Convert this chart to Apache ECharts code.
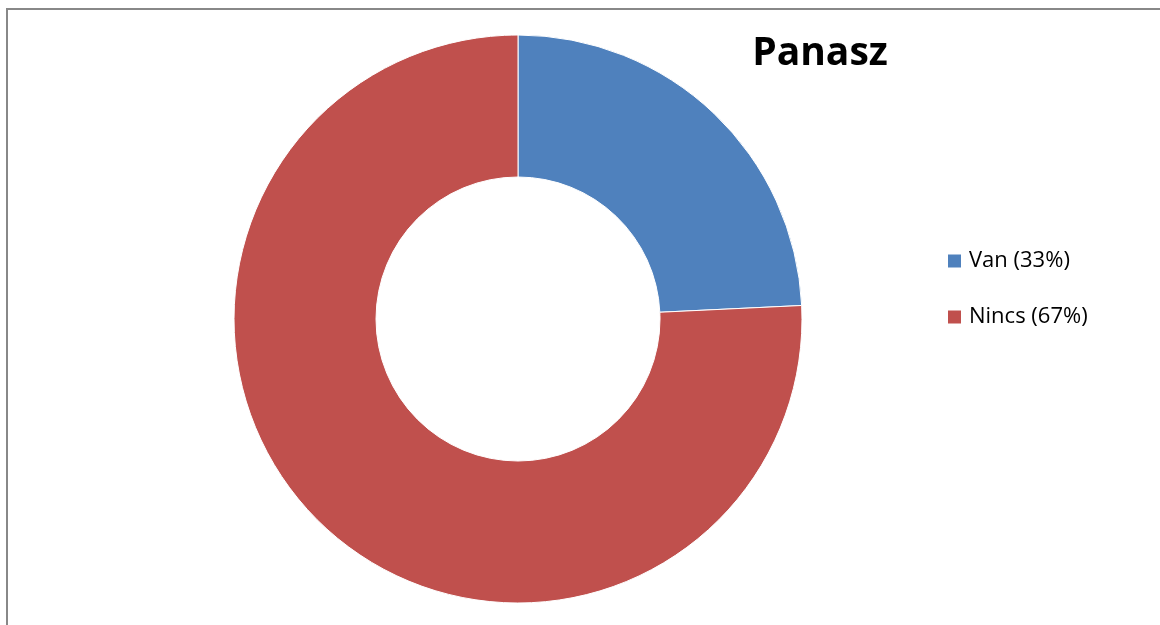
<!DOCTYPE html>
<html>
<head>
<meta charset="utf-8">
<script src="https://cdn.jsdelivr.net/npm/echarts@6/dist/echarts.min.js"></script>
<style>
  html, body { margin: 0; padding: 0; background: #fff; }
  #chart { width: 1160px; height: 625px; }
</style>
</head>
<body>
<div id="chart"></div>
<script>
// slices (legend text keeps its own percentages)
const categories = ['Van (33%)', 'Nincs (67%)']
const values = [8, 25]
const colors = ['#4F81BD', '#C0504D']

const chart = echarts.init(document.getElementById('chart'))

chart.setOption({
  animation: false,
  color: colors,
  title: {
    text: 'Panasz',
    left: 815,
    top: 29,
    textAlign: 'center',
    textStyle: {fontFamily: 'Open Sans', fontWeight: 'bold', fontSize: 39, color: '#000'},
  },
  legend: {
    orient: 'vertical',
    left: 941,
    top: 245,
    itemWidth: 15,
    itemHeight: 15,
    itemGap: 34,
    icon: 'rect',
    textStyle: {fontFamily: 'Open Sans', fontSize: 22, color: '#000', padding: [0, 0, 0, 2]},
    data: categories,
  },
  graphic: [{
    type: 'rect',
    shape: {x: 7, y: 9, width: 1170, height: 640},
    style: {fill: 'none', stroke: '#888', lineWidth: 2},
    silent: true,
  }],
  series: [{
    type: 'pie',
    center: [518, 319],
    radius: [142, 284],
    startAngle: 90,
    clockwise: true,
    label: {show: false},
    labelLine: {show: false},
    itemStyle: {borderColor: '#fff', borderWidth: 1},
    data: categories.map((name, i) => ({name, value: values[i]})),
  }],
})
</script>
</body>
</html>
